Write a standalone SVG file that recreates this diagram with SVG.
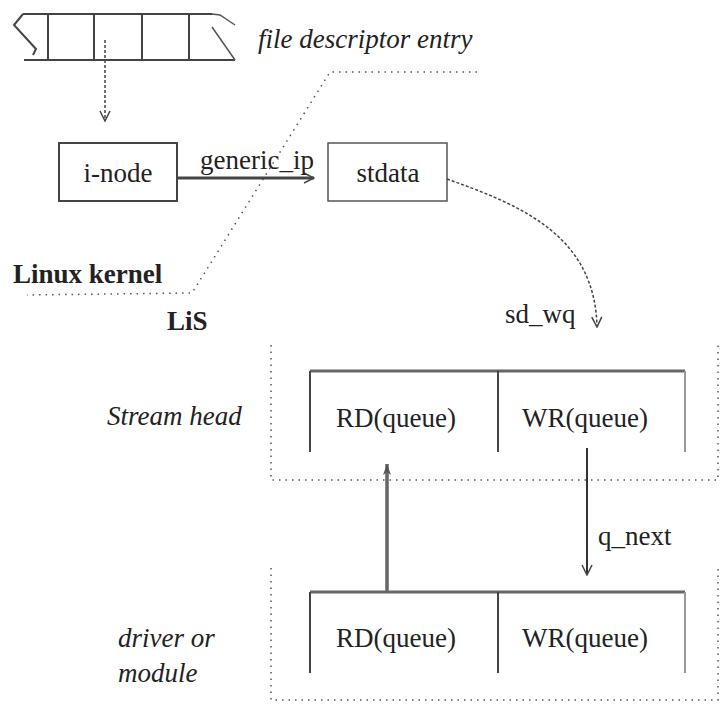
<svg xmlns="http://www.w3.org/2000/svg" width="721" height="704" viewBox="0 0 721 704">
  <style>
    text { font-family: "Liberation Serif", "DejaVu Serif", "Noto Serif", serif; font-size: 27px; fill: #222; }
    .it { font-style: italic; }
    .b { font-weight: bold; }
    .box { fill: none; stroke: #444; stroke-width: 2; }
    .thin { fill: none; stroke: #555; stroke-width: 1.5; }
    .dot { fill: none; stroke: #555; stroke-width: 1.5; stroke-dasharray: 1.5 5; }
    .dash { fill: none; stroke: #444; stroke-width: 1.5; stroke-dasharray: 3 2; }
    .qtop { stroke: #666; stroke-width: 3; }
    .qside { stroke: #444; stroke-width: 2; }
  </style>
  <defs>
    <marker id="vhead" viewBox="0 0 12 12" refX="11" refY="6" markerWidth="12" markerHeight="12" markerUnits="userSpaceOnUse" orient="auto">
      <path d="M1,1 L11,6 L1,11" fill="none" stroke="#444" stroke-width="1.5"/>
    </marker>
    <marker id="fhead" viewBox="0 0 12 12" refX="11" refY="6" markerWidth="14" markerHeight="12" markerUnits="userSpaceOnUse" orient="auto">
      <path d="M0,2 L11,6 L0,10 L3,6 Z" fill="#555"/>
    </marker>
  </defs>

  <!-- file descriptor table strip -->
  <g id="fd-table">
    <path class="box" d="M23,14 L212,14 M24,60 L235,60"/>
    <path class="box" d="M23,14 L14,25 L36,49 L33,55"/>
    <path class="thin" d="M212,14 L220,15 L235,25 M212,27 L235,60"/>
    <path class="box" d="M48,14 V60 M94,14 V60 M142,14 V60 M189,14 V60"/>
    <text class="it" x="258" y="48">file descriptor entry</text>
  </g>

  <!-- kernel / LiS boundary -->
  <g id="boundary">
    <path class="dot" d="M477,72 L330,72 L192,293 L27,295"/>
    <text class="b" x="13" y="283">Linux kernel</text>
    <text class="b" x="167" y="330">LiS</text>
  </g>

  <g id="inode">
    <rect class="box" x="59" y="143" width="118" height="58"/>
    <text x="118" y="182" text-anchor="middle">i-node</text>
  </g>

  <g id="stdata">
    <rect class="thin" x="328" y="143" width="119" height="58"/>
    <text x="388" y="182" text-anchor="middle">stdata</text>
  </g>

  <!-- stream head -->
  <g id="stream-head">
    <path class="dot" d="M271,345 V480 H718 V345"/>
    <line class="qtop" x1="310" y1="371" x2="685" y2="371"/>
    <path class="qside" d="M310,371 V452 M498,371 V452"/>
    <line x1="685" y1="371" x2="685" y2="452" stroke="#999" stroke-width="2"/>
    <text x="396" y="427" text-anchor="middle">RD(queue)</text>
    <text x="585" y="427" text-anchor="middle">WR(queue)</text>
    <text class="it" x="107" y="425">Stream head</text>
  </g>

  <!-- driver or module -->
  <g id="driver">
    <path class="dot" d="M271,568 V700 H718 V567"/>
    <line class="qtop" x1="310" y1="592" x2="685" y2="592"/>
    <path class="qside" d="M310,592 V673 M498,592 V673"/>
    <line x1="685" y1="592" x2="685" y2="673" stroke="#999" stroke-width="2"/>
    <text x="396" y="647" text-anchor="middle">RD(queue)</text>
    <text x="585" y="647" text-anchor="middle">WR(queue)</text>
    <text class="it" x="118" y="647">driver or</text>
    <text class="it" x="118" y="682">module</text>
  </g>

  <!-- connectors -->
  <g id="connectors">
    <line class="dash" x1="105" y1="40" x2="105" y2="121" marker-end="url(#vhead)"/>
    <line x1="177" y1="178" x2="314" y2="178" stroke="#444" stroke-width="3" marker-end="url(#vhead)"/>
    <text x="200" y="169">generic_ip</text>
    <path class="dash" d="M447,179 C520,205 595,235 597,327" marker-end="url(#vhead)"/>
    <text x="505" y="323">sd_wq</text>
    <line x1="387" y1="592" x2="387" y2="464" stroke="#666" stroke-width="3.5" marker-end="url(#fhead)"/>
    <line x1="587" y1="448" x2="587" y2="575" stroke="#333" stroke-width="2" marker-end="url(#vhead)"/>
    <text x="598" y="545">q_next</text>
  </g>
</svg>
